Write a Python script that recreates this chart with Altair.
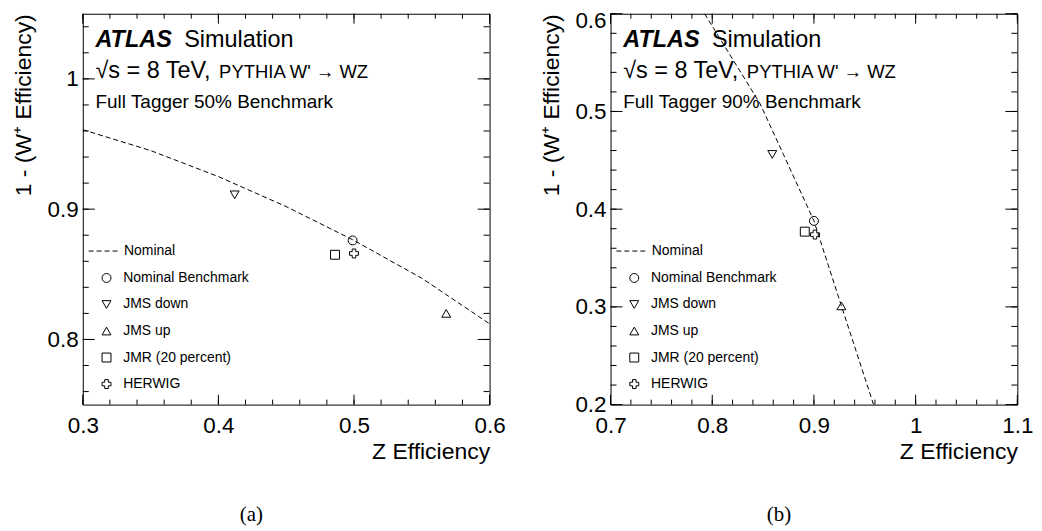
import altair as alt
import pandas as pd

FONT = "Liberation Sans"
W, H = 408, 392

# ---------------- data ----------------
variations = ["Nominal Benchmark", "JMS down", "JMS up", "JMR (20 percent)", "HERWIG"]
shapes = ["circle", "triangle-down", "triangle-up", "square", "cross"]

# panel (a): Full Tagger 50% benchmark
a_nom_x = [0.30, 0.35, 0.40, 0.45, 0.50, 0.55, 0.60]
a_nom_y = [0.961, 0.945, 0.925, 0.902, 0.876, 0.847, 0.812]
a_var_x = [0.499, 0.412, 0.568, 0.486, 0.500]
a_var_y = [0.876, 0.911, 0.820, 0.865, 0.866]

# panel (b): Full Tagger 90% benchmark
b_nom_x = [0.7925, 0.847, 0.870, 0.900, 0.927, 0.9586]
b_nom_y = [0.600, 0.508, 0.456, 0.388, 0.301, 0.200]
b_var_x = [0.900, 0.859, 0.927, 0.891, 0.901]
b_var_y = [0.388, 0.456, 0.301, 0.377, 0.374]

# axes
a_xdom, a_ydom = [0.3, 0.6], [0.75, 1.05]
b_xdom, b_ydom = [0.7, 1.1], [0.2, 0.6]
a_xmajor = [0.3, 0.4, 0.5, 0.6]
a_ymajor = [0.8, 0.9, 1.0]
b_xmajor = [0.7, 0.8, 0.9, 1.0, 1.1]
b_ymajor = [0.2, 0.3, 0.4, 0.5, 0.6]


def minor(lo, hi, step=0.02):
    n = int(round((hi - lo) / step))
    return [round(lo + step * i, 3) for i in range(n + 1)]


a_xminor = minor(0.30, 0.60)
a_yminor = minor(0.76, 1.04)
b_xminor = minor(0.70, 1.10)
b_yminor = minor(0.20, 0.60)

ONE = alt.Data(values=[{}])
BIG = 23.5
LAB = 22.5
TIT = 23
MID = 19
SMALL = 18.5
LEG = 14


def txt(text, x, y, size, font=FONT, align="left", **kw):
    return alt.Chart(ONE).mark_text(font=font, fontSize=size, align=align,
                                    baseline="alphabetic", color="black", **kw).encode(
        x=alt.value(x), y=alt.value(y), text=alt.value(text))


def tick_rules(values, side, length, xs, ys):
    df = pd.DataFrame({"v": values})
    base = alt.Chart(df).mark_rule(color="black", strokeWidth=1)
    if side == "bottom":
        enc = dict(x=alt.X("v:Q", scale=xs, axis=None), y=alt.value(H), y2=alt.value(H - length))
    elif side == "top":
        enc = dict(x=alt.X("v:Q", scale=xs, axis=None), y=alt.value(0), y2=alt.value(length))
    elif side == "left":
        enc = dict(y=alt.Y("v:Q", scale=ys, axis=None), x=alt.value(0), x2=alt.value(length))
    else:
        enc = dict(y=alt.Y("v:Q", scale=ys, axis=None), x=alt.value(W), x2=alt.value(W - length))
    return base.encode(**enc)


def panel(nx, ny, vx, vy, xdom, ydom, xmaj, xmin, ymaj, ymin, bench, tag, ylab_extra):
    nom = pd.DataFrame({"x": nx, "y": ny, "series": ["Nominal"] * len(nx)})
    var = pd.DataFrame({"x": vx, "y": vy, "label": variations})
    xs = alt.Scale(domain=xdom, nice=False, zero=False)
    ys = alt.Scale(domain=ydom, nice=False, zero=False)

    xlab = alt.Axis(orient="bottom", values=xmaj, format="~g", ticks=False, tickSize=0,
                    domain=False, grid=False, labelPadding=10.2, labelFlush=False,
                    labelOverlap=False, title="Z Efficiency", titleAnchor="end",
                    titleAlign="right", titleBaseline="alphabetic", titleX=W, titleY=54.5)
    ylab = alt.Axis(orient="left", values=ymaj, format="~g", ticks=False, tickSize=0,
                    domain=False, grid=False, labelPadding=4.5, labelFlush=False,
                    labelOverlap=False, title="1 - (W\u207a Efficiency)", titleAngle=270,
                    titleAnchor="end", titleAlign="right", titleBaseline="alphabetic",
                    titleX=-52.5, titleY=0, **ylab_extra)

    line = alt.Chart(nom).mark_line(color="black", strokeWidth=1, clip=True).encode(
        x=alt.X("x:Q", scale=xs, axis=xlab),
        y=alt.Y("y:Q", scale=ys, axis=ylab),
        strokeDash=alt.StrokeDash(
            "series:N", scale=alt.Scale(domain=["Nominal"], range=[[5, 3]]),
            legend=alt.Legend(orient="none", legendX=5, legendY=222.5, title=None,
                              labelFont=FONT, labelFontSize=LEG, labelColor="black",
                              labelOffset=5.3, symbolType="stroke", symbolSize=860,
                              symbolStrokeWidth=1, symbolStrokeColor="black", padding=0)),
    )
    pts = alt.Chart(var).mark_point(filled=False, color="black", strokeWidth=1, size=80,
                                    opacity=1).encode(
        x=alt.X("x:Q", scale=xs, axis=None),
        y=alt.Y("y:Q", scale=ys, axis=None),
        shape=alt.Shape(
            "label:N", scale=alt.Scale(domain=variations, range=shapes),
            legend=alt.Legend(orient="none", legendX=16.8, legendY=258, title=None,
                              labelFont=FONT, labelFontSize=LEG, labelColor="black",
                              labelOffset=9.8, symbolSize=80, symbolStrokeWidth=1,
                              symbolStrokeColor="black", rowPadding=12.6, padding=0,
                              labelLimit=300)),
    )
    ticks = [
        tick_rules(xmaj, "bottom", 10, xs, ys), tick_rules(xmin, "bottom", 5, xs, ys),
        tick_rules(xmaj, "top", 10, xs, ys), tick_rules(xmin, "top", 5, xs, ys),
        tick_rules(ymaj, "left", 12, xs, ys), tick_rules(ymin, "left", 6, xs, ys),
        tick_rules(ymaj, "right", 12, xs, ys), tick_rules(ymin, "right", 6, xs, ys),
    ]

    texts = [
        txt("ATLAS", 12.7, 33.7, BIG, fontStyle="italic", fontWeight="bold"),
        txt("Simulation", 101.7, 33.7, BIG),
        txt("\u221as = 8 TeV,", 12.7, 64, BIG),
        txt("PYTHIA W' \u2192 WZ", 136.7, 64, SMALL),
        txt(bench, 12.7, 94.3, MID),
        txt(tag, 169, 509, 21, font="Liberation Serif", align="center"),
    ]
    return alt.layer(line, pts, *ticks, *texts).resolve_axis(
        x="independent", y="independent").properties(width=W, height=H)


pa = panel(a_nom_x, a_nom_y, a_var_x, a_var_y, a_xdom, a_ydom, a_xmajor, a_xminor,
           a_ymajor, a_yminor, "Full Tagger 50% Benchmark", "(a)", {})
pb = panel(b_nom_x, b_nom_y, b_var_x, b_var_y, b_xdom, b_ydom, b_xmajor, b_xminor,
           b_ymajor, b_yminor, "Full Tagger 90% Benchmark", "(b)",
           {"labelOffset": {"condition": {"test": "datum.value > 0.59", "value": 7},
                            "value": 0}})

chart = alt.hconcat(pa, pb, spacing=121.3, bounds="flush").resolve_scale(
    shape="independent", strokeDash="independent").resolve_legend(
    shape="independent", strokeDash="independent").properties(
    padding={"left": 4, "top": 0, "right": 0, "bottom": 0}, background="white"
).configure_view(stroke="black", strokeWidth=1).configure_axis(
    labelFont=FONT, labelFontSize=LAB, labelColor="black", titleFont=FONT,
    titleFontSize=TIT, titleFontWeight="normal", titleColor="black")

chart.save("out.html", embed_options={"renderer": "svg", "actions": False})
